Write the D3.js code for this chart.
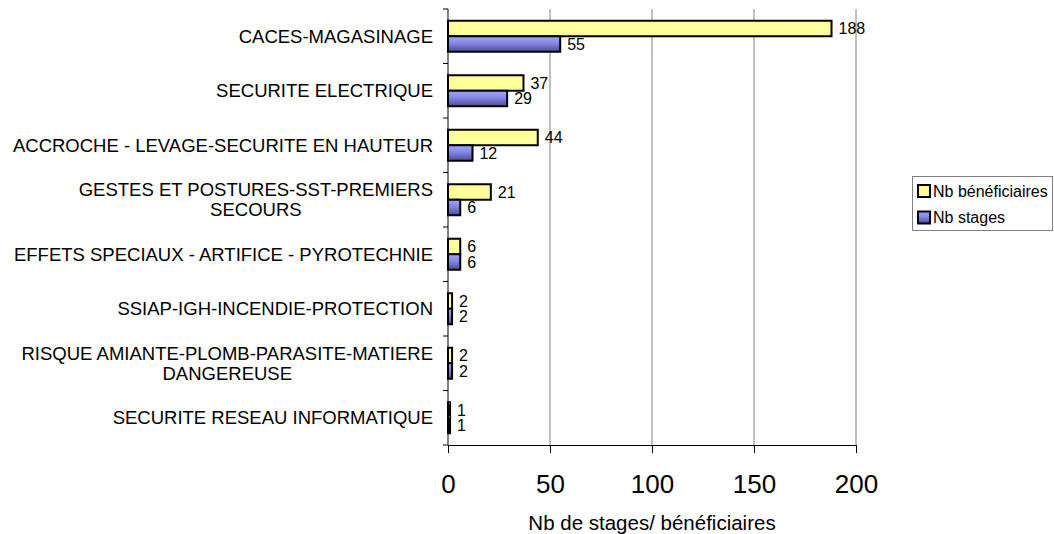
<!DOCTYPE html>
<html><head><meta charset="utf-8">
<script src="https://cdn.jsdelivr.net/npm/d3@7"></script>
<style>body{margin:0;background:#fff;} text{font-family:"Liberation Sans",Arial,sans-serif;}</style>
</head><body>
<svg id="c" width="1054" height="534"></svg>
<script>
const categories = [
  ["CACES-MAGASINAGE"],
  ["SECURITE ELECTRIQUE"],
  ["ACCROCHE - LEVAGE-SECURITE EN HAUTEUR"],
  ["GESTES ET POSTURES-SST-PREMIERS","SECOURS"],
  ["EFFETS SPECIAUX - ARTIFICE - PYROTECHNIE"],
  ["SSIAP-IGH-INCENDIE-PROTECTION"],
  ["RISQUE AMIANTE-PLOMB-PARASITE-MATIERE","DANGEREUSE"],
  ["SECURITE RESEAU INFORMATIQUE"]
];
const beneficiaires = [188, 37, 44, 21, 6, 2, 2, 1];
const stages = [55, 29, 12, 6, 6, 2, 2, 1];
const xTicks = [0, 50, 100, 150, 200];
const seriesNames = ["Nb bénéficiaires", "Nb stages"];
const axisTitle = "Nb de stages/ bénéficiaires";

(function(){
const svg = d3.select("#c");
const pL = 448, pR = 856, pT = 9, pB = 445;
const x = d3.scaleLinear().domain([0, 200]).range([pL, pR]);
const y = d3.scaleBand().domain(d3.range(categories.length)).range([pT, pB]);

const defs = svg.append("defs");
const g = defs.append("linearGradient").attr("id","pg").attr("x1",0).attr("y1",0).attr("x2",0).attr("y2",1);
g.append("stop").attr("offset","0%").attr("stop-color","#a4a4ff");
g.append("stop").attr("offset","45%").attr("stop-color","#8585e6");
g.append("stop").attr("offset","100%").attr("stop-color","#4c4c94");

// gridlines
svg.append("g").selectAll("line").data(xTicks.slice(1)).join("line")
  .attr("x1", d=>x(d)).attr("x2", d=>x(d)).attr("y1", pT).attr("y2", pB)
  .attr("stroke","#808080").attr("stroke-width",1);

// y axis
const yAxis = svg.append("g");
yAxis.append("line").attr("x1",pL).attr("x2",pL).attr("y1",pT).attr("y2",pB).attr("stroke","#000");
yAxis.selectAll("line.t").data(d3.range(categories.length+1)).join("line").attr("class","t")
  .attr("x1",pL-5).attr("x2",pL).attr("y1",d=>pT + d*y.step()).attr("y2",d=>pT + d*y.step()).attr("stroke","#000");

// x axis
const xa = svg.append("g").attr("transform",`translate(0,${pB})`)
  .call(d3.axisBottom(x).tickValues(xTicks).tickSize(8).tickSizeOuter(0).tickPadding(22));
xa.select(".domain").attr("stroke","#000");
xa.selectAll(".tick line").attr("stroke","#000");
xa.selectAll("text").attr("font-size",26).attr("font-family","Liberation Sans, Arial, sans-serif").attr("fill","#000");

// category labels
const cl = svg.append("g");
categories.forEach((lines,i)=>{
  const cy = y(i) + y.bandwidth()/2;
  const t = cl.append("text").attr("text-anchor","middle").attr("font-size",18.5).attr("fill","#000");
  const n = lines.length;
  lines.forEach((ln,j)=>{
    t.append("tspan").attr("x", 0).attr("y", cy + (j-(n-1)/2)*20).attr("dy","0.35em").text(ln);
  });
  const bb = t.node().getBBox();
  t.attr("transform",`translate(${433 - bb.width/2},0)`);
});

// bars
const bh = 15.5;
const bars = svg.append("g");
categories.forEach((c,i)=>{
  const cy = y(i) + y.bandwidth()/2;
  [[beneficiaires[i],"#ffff99",cy-bh],[stages[i],"url(#pg)",cy]].forEach(([v,fill,yy])=>{
    bars.append("rect").attr("x",x(0)).attr("y",yy).attr("width",x(v)-x(0)).attr("height",bh)
      .attr("fill",fill).attr("stroke","#000").attr("stroke-width",2);
    bars.append("text").attr("x",x(v)+7).attr("y",yy+bh/2).attr("dy","0.35em")
      .attr("font-size",16).attr("fill","#000").text(v);
  });
});

// axis title
svg.append("text").attr("x",(pL+pR)/2).attr("y",530).attr("text-anchor","middle")
  .attr("font-size",20.5).text(axisTitle);

// legend
const lg = svg.append("g");
lg.append("rect").attr("x",912.5).attr("y",176.5).attr("width",140).attr("height",54)
  .attr("fill","#fff").attr("stroke","#808080");
const lfills = ["#ffff99","url(#pg)"];
seriesNames.forEach((n,i)=>{
  const ly = 191 + i*26.5;
  lg.append("rect").attr("x",918).attr("y",ly-6).attr("width",12).attr("height",12)
    .attr("fill",lfills[i]).attr("stroke","#000").attr("stroke-width",2);
  lg.append("text").attr("x",933).attr("y",ly).attr("dy","0.35em").attr("font-size",16).text(n);
});
})();
</script>
</body></html>
